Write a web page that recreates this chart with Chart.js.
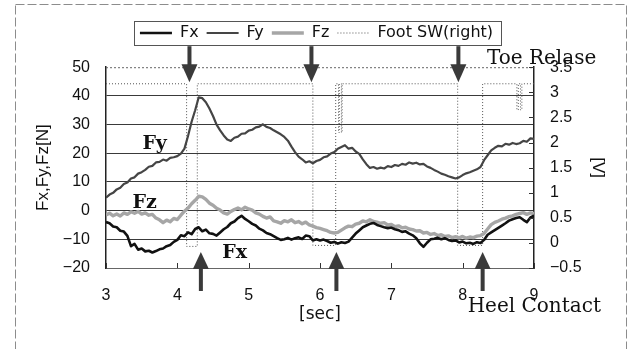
<!DOCTYPE html>
<html>
<head>
<meta charset="utf-8">
<script src="https://cdn.jsdelivr.net/npm/chart.js@4.4.1/dist/chart.umd.min.js"></script>
<style>
  html, body { margin: 0; padding: 0; background: #fff; }
  canvas { display: block; }
</style>
</head>
<body>
<canvas id="chart" width="633" height="349"></canvas>
<script>
// sample times [sec]
const time = [
  3.00, 3.05, 3.10, 3.15, 3.20, 3.25, 3.30, 3.35, 3.40, 3.45,
  3.50, 3.55, 3.60, 3.65, 3.70, 3.75, 3.80, 3.85, 3.90, 3.95,
  4.00, 4.05, 4.10, 4.15, 4.20, 4.25, 4.30, 4.35, 4.40, 4.45,
  4.50, 4.55, 4.60, 4.65, 4.70, 4.75, 4.80, 4.85, 4.90, 4.95,
  5.00, 5.05, 5.10, 5.15, 5.20, 5.25, 5.30, 5.35, 5.40, 5.45,
  5.50, 5.55, 5.60, 5.65, 5.70, 5.75, 5.80, 5.85, 5.90, 5.95,
  6.00, 6.05, 6.10, 6.15, 6.20, 6.25, 6.30, 6.35, 6.40, 6.45,
  6.50, 6.55, 6.60, 6.65, 6.70, 6.75, 6.80, 6.85, 6.90, 6.95,
  7.00, 7.05, 7.10, 7.15, 7.20, 7.25, 7.30, 7.35, 7.40, 7.45,
  7.50, 7.55, 7.60, 7.65, 7.70, 7.75, 7.80, 7.85, 7.90, 7.95,
  8.00, 8.05, 8.10, 8.15, 8.20, 8.25, 8.30, 8.35, 8.40, 8.45,
  8.50, 8.55, 8.60, 8.65, 8.70, 8.75, 8.80, 8.85, 8.90, 8.95,
  9.00
];

// forces [N]
const fx = [
  -4.0, -4.4, -5.5, -5.8, -7.0, -7.3, -8.8, -12.4, -11.6, -13.6,
  -13.2, -14.2, -14.0, -14.6, -14.1, -13.5, -13.2, -12.4, -12.0, -10.9,
  -10.2, -8.6, -8.9, -7.6, -8.2, -6.4, -5.8, -7.2, -6.6, -7.9,
  -8.1, -8.7, -7.6, -6.5, -5.7, -4.4, -3.8, -2.6, -1.8, -2.9,
  -3.7, -4.6, -5.2, -6.3, -6.9, -7.8, -8.2, -8.9, -9.6, -10.2,
  -10.0, -9.5, -10.1, -9.6, -9.3, -9.9, -8.7, -8.9, -10.4, -10.0,
  -10.4, -10.1, -10.6, -11.2, -10.9, -11.5, -11.0, -11.3, -10.8, -9.4,
  -8.0, -6.9, -5.8, -5.2, -4.6, -4.3, -5.0, -5.4, -5.8, -6.1,
  -5.9, -6.5, -6.8, -7.4, -7.2, -8.0, -8.6, -9.6, -11.4, -12.6,
  -11.2, -10.0, -9.8, -9.5, -10.0, -9.6, -10.2, -10.6, -10.4, -11.1,
  -10.8, -11.4, -11.2, -11.6, -11.0, -11.3, -10.2, -8.4, -7.6, -6.8,
  -6.0, -5.2, -4.4, -3.5, -3.0, -2.6, -2.3, -3.2, -4.0, -2.4,
  -1.8
];
const fy = [
  4.5, 5.6, 6.2, 7.4, 8.0, 9.3, 9.8, 11.2, 11.6, 12.9,
  13.4, 14.2, 15.3, 15.6, 16.8, 17.0, 17.8, 17.4, 18.4, 18.6,
  19.0, 19.9, 21.6, 26.0, 31.0, 35.0, 39.5, 39.2, 37.8, 35.6,
  33.0, 30.0, 28.0, 26.2, 24.8, 24.3, 25.4, 25.8, 26.8, 26.9,
  27.9, 28.2, 29.0, 29.3, 30.1, 29.2, 28.8, 28.0, 27.3, 26.6,
  25.7, 24.4, 22.3, 20.4, 18.8, 17.9, 16.8, 17.2, 16.5, 17.3,
  17.7, 18.6, 18.9, 19.9, 20.4, 21.6, 22.2, 22.8, 21.6, 21.9,
  20.6, 19.8, 17.9, 16.2, 14.9, 15.2, 14.6, 15.0, 14.7, 15.5,
  15.2, 15.9, 15.6, 16.3, 16.0, 16.8, 16.4, 16.7, 16.1, 16.3,
  15.4, 14.9, 14.2, 13.6, 12.9, 12.5, 12.0, 11.6, 11.2, 11.6,
  12.4, 13.0, 13.4, 13.9, 14.4, 15.2, 17.6, 19.3, 21.0, 21.9,
  22.6, 22.4, 23.3, 23.0, 23.6, 23.2, 23.5, 24.3, 24.0, 25.2,
  25.0
];
const fz = [
  -1.5, -0.9, -1.8, -1.2, -1.9, -0.8, -1.3, -0.4, -0.9, -0.3,
  -1.2, -0.8, -1.6, -1.3, -2.6, -3.2, -4.2, -3.3, -3.9, -2.7,
  -3.1, -1.6, -0.2, 0.9, 2.4, 3.6, 5.0, 4.8, 3.9, 2.6,
  1.9, 0.8, 0.2, -0.8, -1.2, -0.3, 0.4, 0.9, 0.3, 1.2,
  0.6, 0.2, -0.8, -1.2, -2.0, -2.6, -2.2, -3.6, -3.9, -4.4,
  -3.5, -3.9, -3.2, -4.2, -3.8, -4.6, -4.0, -5.0, -5.4, -5.9,
  -6.2, -6.6, -7.0, -7.6, -7.8, -7.6, -6.8, -6.0, -5.4, -5.6,
  -4.7, -4.4, -3.6, -3.9, -3.2, -3.8, -4.0, -4.4, -4.2, -5.0,
  -4.8, -5.6, -5.3, -6.0, -5.8, -6.4, -6.6, -7.1, -7.0, -7.8,
  -7.6, -8.3, -8.0, -8.7, -8.4, -9.0, -8.8, -9.4, -9.1, -9.5,
  -9.0, -9.6, -9.2, -9.4, -8.9, -8.7, -8.0, -6.4, -4.9, -4.1,
  -3.6, -3.0, -2.6, -2.1, -1.8, -1.3, -1.0, -0.7, -1.3, -0.8,
  -1.0
];

// foot switch (right) [V]
const swTime = [3.00, 4.13, 4.13, 4.28, 4.28, 5.90, 5.90, 6.22, 6.22, 6.26, 6.26, 6.27, 6.27,
  6.30, 6.30, 6.31, 6.31, 7.93, 7.93, 8.28, 8.28, 8.76, 8.76, 8.78, 8.78, 8.81, 8.81, 8.83, 8.83, 9.00];
const swVolt = [3.17, 3.17, -0.07, -0.07, 3.17, 3.17, -0.05, -0.05, 3.17, 3.17, 2.2, 2.2, 3.17,
  3.17, 2.2, 2.2, 3.17, 3.17, -0.05, -0.05, 3.17, 3.17, 2.65, 2.65, 3.17, 3.17, 2.65, 2.65, 3.17, 3.17];

// event markers [sec]
const toeRelease = [4.17, 5.88, 7.94];
const heelContact = [4.33, 6.23, 8.28];

const toPoints = (xs, ys) => ys.map((v, i) => ({ x: xs[i], y: v }));
const minus = v => String(v).replace('-', '\u2212');

Chart.defaults.font.family = '"Liberation Sans", Arial, sans-serif';
Chart.defaults.font.size = 16;
Chart.defaults.color = '#111';

const extras = {
  id: 'extras',
  beforeDraw(chart) {
    const c = chart.ctx;
    c.save();
    c.strokeStyle = '#8c8c8c';
    c.lineWidth = 1;
    c.setLineDash([9, 3]);
    c.strokeRect(15.5, 4.5, 611, 360);
    c.restore();
  },
  afterDatasetsDraw(chart) {
    const { ctx: c, chartArea: a, scales: { x, y, y1 } } = chart;
    c.save();
    // dotted top edge
    c.strokeStyle = '#666';
    c.lineWidth = 1;
    c.setLineDash([2, 2]);
    c.beginPath();
    c.moveTo(a.left, a.top + 0.5);
    c.lineTo(a.right, a.top + 0.5);
    c.stroke();
    c.setLineDash([]);

    // inner tick marks
    c.strokeStyle = '#333';
    c.beginPath();
    x.ticks.forEach(t => {
      const px = Math.round(x.getPixelForValue(t.value)) + 0.5;
      c.moveTo(px, a.bottom);
      c.lineTo(px, a.bottom - 5);
    });
    y1.ticks.forEach(t => {
      const py = Math.round(y1.getPixelForValue(t.value)) + 0.5;
      c.moveTo(a.right, py);
      c.lineTo(a.right - 5, py);
    });
    c.stroke();

    // arrows
    c.fillStyle = '#3a3a3a';
    toeRelease.forEach(t => {
      const px = x.getPixelForValue(t);
      c.fillRect(px - 2, a.top - 21, 4, 20);
      c.beginPath();
      c.moveTo(px - 8, a.top - 3);
      c.lineTo(px + 8, a.top - 3);
      c.lineTo(px, a.top + 15);
      c.closePath();
      c.fill();
    });
    heelContact.forEach(t => {
      const px = x.getPixelForValue(t);
      c.fillRect(px - 2, a.bottom - 2, 4, 25);
      c.beginPath();
      c.moveTo(px - 8, a.bottom + 1);
      c.lineTo(px + 8, a.bottom + 1);
      c.lineTo(px, a.bottom - 16);
      c.closePath();
      c.fill();
    });

    // curve names and event names
    c.fillStyle = '#111';
    c.textBaseline = 'alphabetic';
    c.textAlign = 'left';
    c.font = 'bold 19px "DejaVu Serif", serif';
    c.fillText('Fy', x.getPixelForValue(3.51), y.getPixelForValue(21.4));
    c.fillText('Fz', x.getPixelForValue(3.37), y.getPixelForValue(1.0));
    c.fillText('Fx', x.getPixelForValue(4.63), y.getPixelForValue(-16.5));
    c.font = '20px "DejaVu Serif", serif';
    c.fillText('Toe Relase', x.getPixelForValue(8.34), y.getPixelForValue(51.0));
    c.fillText('Heel Contact', x.getPixelForValue(8.07), y.getPixelForValue(-35.3));
    c.restore();
  },
  afterDraw(chart) {
    const boxes = chart.legend.legendHitBoxes;
    if (!boxes || !boxes.length) return;
    const c = chart.ctx;
    const l = Math.min(...boxes.map(b => b.left)) - 6;
    const r = Math.max(...boxes.map(b => b.left + b.width)) + 8;
    const t = boxes[0].top - 4;
    const btm = boxes[0].top + boxes[0].height + 4;
    c.save();
    c.strokeStyle = '#555';
    c.lineWidth = 1;
    c.strokeRect(Math.round(l) + 0.5, Math.round(t) + 0.5, Math.round(r - l), Math.round(btm - t));
    c.restore();
  }
};

new Chart(document.getElementById('chart'), {
  type: 'line',
  data: {
    datasets: [
      { label: 'Fx', data: toPoints(time, fx), borderColor: '#111111', borderWidth: 2.6, yAxisID: 'y' },
      { label: 'Fy', data: toPoints(time, fy), borderColor: '#454545', borderWidth: 2.2, yAxisID: 'y' },
      { label: 'Fz', data: toPoints(time, fz), borderColor: '#a6a6a6', borderWidth: 3.4, yAxisID: 'y' },
      { label: 'Foot SW(right)', data: toPoints(swTime, swVolt), borderColor: '#555555', borderWidth: 1, borderDash: [1, 2], yAxisID: 'y1' }
    ]
  },
  options: {
    responsive: false,
    animation: false,
    devicePixelRatio: 1,
    layout: { padding: { top: 17, left: 0, right: 0, bottom: 0 } },
    elements: {
      point: { radius: 0 },
      line: { tension: 0, borderJoinStyle: 'round' }
    },
    plugins: {
      tooltip: { enabled: false },
      legend: {
        position: 'top',
        labels: {
          font: { family: '"DejaVu Sans", sans-serif', size: 16 },
          color: '#111',
          usePointStyle: true,
          pointStyleWidth: 32,
          padding: 8,
          generateLabels: chart => chart.data.datasets.map((ds, i) => ({
            text: ds.label,
            strokeStyle: ds.borderColor,
            fillStyle: ds.borderColor,
            lineWidth: ds.borderWidth,
            lineDash: ds.borderDash || [],
            pointStyle: 'line',
            fontColor: '#111',
            hidden: false,
            datasetIndex: i
          }))
        }
      },
      // empty spacer between legend and plot
      subtitle: { display: true, text: '', weight: 500, font: { size: 1 }, padding: { top: 15, bottom: 0 } }
    },
    scales: {
      x: {
        type: 'linear',
        min: 3,
        max: 9,
        ticks: { stepSize: 1, padding: 18, callback: v => minus(v) },
        grid: { drawOnChartArea: false, drawTicks: false },
        border: { color: '#666' },
        title: { display: true, text: '[sec]', font: { family: '"DejaVu Sans", sans-serif', size: 17 }, padding: { top: 0, bottom: 24 } },
        afterFit: s => { s.height = 81; }
      },
      y: {
        position: 'left',
        min: -20,
        max: 50,
        ticks: { stepSize: 10, padding: 16, callback: v => minus(v) },
        grid: {
          drawTicks: false,
          color: ctx => (ctx.tick.value === 50 || ctx.tick.value === -20) ? 'rgba(0,0,0,0)' : '#3a3a3a'
        },
        border: { color: '#222', width: 1.5 },
        title: { display: true, text: 'Fx,Fy,Fz[N]', font: { size: 17 }, padding: { top: 33, bottom: 0 } },
        afterFit: s => { s.width = 106; }
      },
      y1: {
        position: 'right',
        min: -0.5,
        max: 3.5,
        ticks: { stepSize: 0.5, padding: 16, callback: v => minus(v) },
        grid: { drawOnChartArea: false, drawTicks: false },
        border: { color: '#222', width: 1.5 },
        title: { display: true, text: '[V]', font: { size: 17 }, padding: { top: 25, bottom: 0 } },
        afterFit: s => { s.width = 99; }
      }
    }
  },
  plugins: [extras]
});
</script>
</body>
</html>
